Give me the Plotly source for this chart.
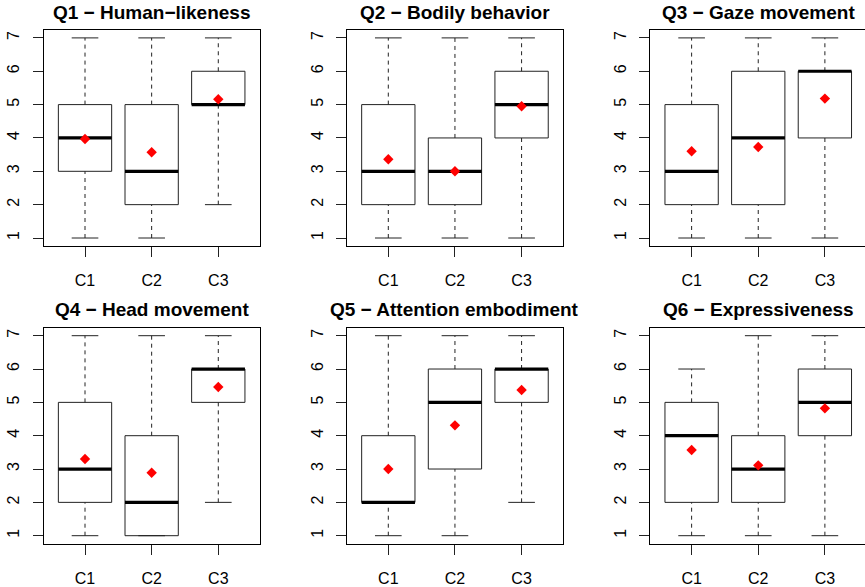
import plotly.graph_objects as go

titles = ["Q1 − Human−likeness", "Q2 − Bodily behavior", "Q3 − Gaze movement",
          "Q4 − Head movement", "Q5 − Attention embodiment", "Q6 − Expressiveness"]
conditions = ["C1", "C2", "C3"]
mins    = [[1, 1, 2], [1, 1, 1], [1, 1, 1], [1, 1, 2], [1, 1, 2], [1, 1, 1]]
q1s     = [[3, 2, 5], [2, 2, 4], [2, 2, 4], [2, 1, 5], [2, 3, 5], [2, 2, 4]]
medians = [[4, 3, 5], [3, 3, 5], [3, 4, 6], [3, 2, 6], [2, 5, 6], [4, 3, 5]]
q3s     = [[5, 5, 6], [5, 4, 6], [5, 6, 6], [5, 4, 6], [4, 6, 6], [5, 4, 6]]
maxs    = [[7, 7, 7], [7, 7, 7], [7, 7, 7], [7, 7, 7], [7, 7, 7], [6, 7, 7]]
means   = [[3.97, 3.57, 5.16], [3.36, 3.00, 4.95], [3.60, 3.73, 5.18],
           [3.30, 2.89, 5.46], [3.00, 4.31, 5.37], [3.57, 3.11, 4.82]]
y_ticks = [1, 2, 3, 4, 5, 6, 7]

W, H = 865, 587
FONT = "Liberation Sans, Arial, sans-serif"
BOX_HALF = 0.4
CAP_HALF = 0.2
LINE_COL = "#222222"

# panel geometry (pixels)
col_px = [(43.7, 259.6), (347.0, 563.0), (650.3, 865.0)]
row_px = [(29.9, 246.0), (327.7, 543.7)]
PX_PER_UNIT = (259.6 - 43.7) / 3.24
FULL_W = 3.24 * PX_PER_UNIT

fig = go.Figure()
layout = dict(width=W, height=H, margin=dict(l=0, r=0, t=0, b=0, autoexpand=False),
              plot_bgcolor="white", paper_bgcolor="white", showlegend=False,
              font=dict(family=FONT, size=16, color="black"), annotations=[])

for p in range(6):
    r, c = divmod(p, 3)
    k = p + 1
    xa = "x" if k == 1 else f"x{k}"
    ya = "y" if k == 1 else f"y{k}"
    xs_box, ys_box = [], []
    xs_w, ys_w = [], []
    xs_m, ys_m = [], []
    for i in range(3):
        x = i + 1
        lo, q1, md, q3, hi = mins[p][i], q1s[p][i], medians[p][i], q3s[p][i], maxs[p][i]
        xs_box += [x - BOX_HALF, x + BOX_HALF, x + BOX_HALF, x - BOX_HALF, x - BOX_HALF, None]
        ys_box += [q1, q1, q3, q3, q1, None]
        xs_box += [x - CAP_HALF, x + CAP_HALF, None, x - CAP_HALF, x + CAP_HALF, None]
        ys_box += [hi, hi, None, lo, lo, None]
        xs_w += [x, x, None, x, x, None]
        ys_w += [q3, hi, None, lo, q1, None]
        xs_m += [x - BOX_HALF, x + BOX_HALF, None]
        ys_m += [md, md, None]
    fig.add_trace(go.Scatter(x=xs_w, y=ys_w, mode="lines", xaxis=xa, yaxis=ya,
                             line=dict(color=LINE_COL, width=1, dash="4px,4px"),
                             hoverinfo="skip"))
    fig.add_trace(go.Scatter(x=xs_box, y=ys_box, mode="lines", xaxis=xa, yaxis=ya,
                             line=dict(color=LINE_COL, width=1), hoverinfo="skip"))
    fig.add_trace(go.Scatter(x=xs_m, y=ys_m, mode="lines", xaxis=xa, yaxis=ya,
                             line=dict(color="black", width=3.2), hoverinfo="skip"))
    fig.add_trace(go.Scatter(x=[1, 2, 3], y=means[p], mode="markers", xaxis=xa, yaxis=ya,
                             marker=dict(symbol="diamond", color="red", size=8,
                                         line=dict(width=0))))

    x0, x1 = col_px[c]
    y0, y1 = row_px[r]
    xmax = 0.38 + (x1 - x0) / PX_PER_UNIT
    right_cut = (c == 2)
    xkey = "xaxis" if k == 1 else f"xaxis{k}"
    ykey = "yaxis" if k == 1 else f"yaxis{k}"
    layout[xkey] = dict(domain=[x0 / W, x1 / W], anchor=ya, range=[0.38, xmax],
                        tickvals=[1, 2, 3], ticktext=conditions, ticks="outside",
                        ticklen=10, tickwidth=1, tickcolor=LINE_COL,
                        showline=True, linecolor="black", linewidth=1, mirror=True,
                        showgrid=False, zeroline=False, ticklabelstandoff=10,
                        automargin=False,
                        tickfont=dict(size=16, family=FONT, color="black"),
                        fixedrange=True)
    layout[ykey] = dict(domain=[1 - y1 / H, 1 - y0 / H], anchor=xa, range=[0.76, 7.24],
                        tickvals=y_ticks, ticks="outside", ticklen=10, tickwidth=1,
                        tickcolor=LINE_COL, tickangle=-90,
                        showline=True, linecolor="black", linewidth=1,
                        mirror=(not right_cut),
                        showgrid=False, zeroline=False, ticklabelstandoff=7,
                        automargin=False,
                        tickfont=dict(size=16, family=FONT, color="black"),
                        fixedrange=True)
    title_y = 12 if r == 0 else 309
    layout["annotations"].append(dict(
        text=f"<b>{titles[p]}</b>", xref="paper", yref="paper",
        x=(x0 + FULL_W / 2) / W,
        y=1 - title_y / H, xanchor="center", yanchor="middle", showarrow=False,
        font=dict(size=19, family=FONT, color="black")))

fig.update_layout(**layout)
fig.write_html("out.html", config={"displayModeBar": False},
               post_script="document.body.style.margin='0';document.body.style.overflow='hidden';")
